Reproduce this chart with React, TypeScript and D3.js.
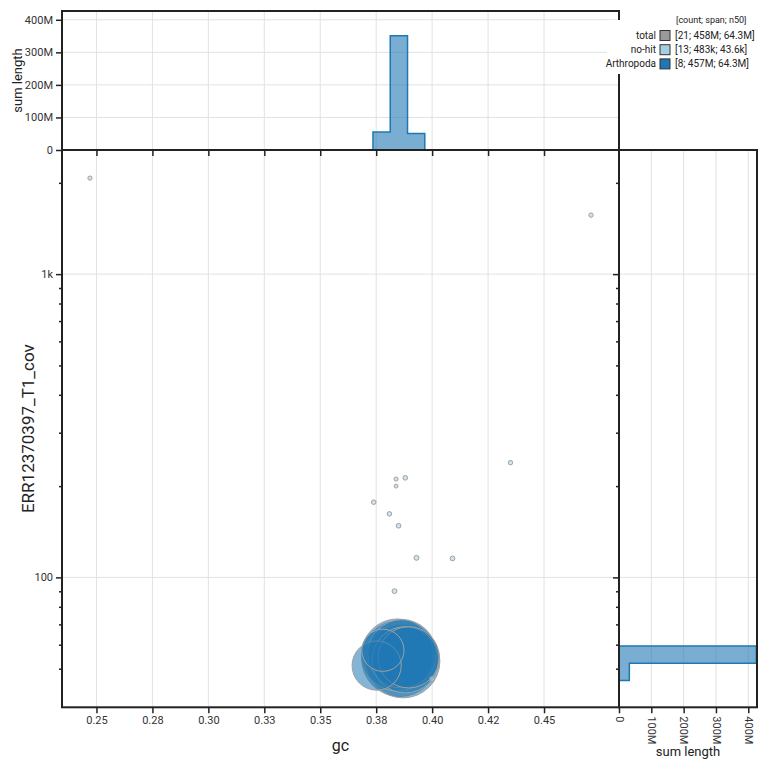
import React, { useEffect, useRef } from 'react';
import * as d3 from 'd3';

const W = 770;
const H = 770;

// Arthropoda sequences: gc, coverage, length
const arthGc = [0.3855, 0.387, 0.3845, 0.3865, 0.388, 0.3895, 0.378, 0.3752];
const arthCov = [54, 53, 55.5, 56, 53.5, 54.5, 57.5, 51.2];
const arthLen = [80e6, 75e6, 71.7e6, 64.3e6, 60e6, 51e6, 23e6, 32e6];

// no-hit sequences
const noHitGc = [0.2471, 0.471, 0.435, 0.3839, 0.388, 0.3839, 0.3739, 0.3809, 0.385, 0.393, 0.4091, 0.3832, 0.4];
const noHitCov = [2073, 1565, 239, 211, 213, 200, 177, 162, 148, 116, 115.5, 90.1, 46.2];
const noHitLen = [22e3, 28e3, 32e3, 18e3, 40e3, 11.4e3, 38e3, 35e3, 43.6e3, 55e3, 48e3, 52e3, 60e3];

const categories = ['no-hit', 'Arthropoda'];
const catColours = ['#a6cee3', '#1f78b4'];

const legendLabels = ['total', 'no-hit', 'Arthropoda'];
const legendColours = ['#999999', '#a6cee3', '#1f78b4'];
const legendStats = ['[21; 458M; 64.3M]', '[13; 483k; 43.6k]', '[8; 457M; 64.3M]'];

const gcTicks = [0.25, 0.275, 0.3, 0.325, 0.35, 0.375, 0.4, 0.425, 0.45];
const covMajor = [100, 1000];
const covMinor = [50, 60, 70, 80, 90, 200, 300, 400, 500, 600, 700, 800, 900, 2000];
const lengthTicks = [0, 1e8, 2e8, 3e8, 4e8];

const gcDomain = [0.2346, 0.4835];
const covDomain = [37.3, 2566];
const lengthMax = 427e6;
const gcBinStep = 0.00772;
const covBinStep = 0.057; // log10 units

const FONT = 'Roboto, "Noto Sans", sans-serif';
const INK = '#222';

export default function App() {
  const ref = useRef<SVGSVGElement>(null);

  useEffect(() => {
    const svg = d3.select(ref.current);
    svg.selectAll('*').remove();

    const left = 62, right = 619, top = 150, bottom = 707.3;
    const histTop = 11, sideRight = 757;

    const x = d3.scaleLinear().domain(gcDomain).range([left, right]);
    const y = d3.scaleLog().domain(covDomain).range([bottom, top]);
    const topY = d3.scaleLinear().domain([0, lengthMax]).range([top, histTop]);
    const sideX = d3.scaleLinear().domain([0, lengthMax]).range([right, sideRight]);
    const radius = d3.scaleSqrt().domain([0, 80e6]).range([1.5, 38]);

    const points = [
      ...arthGc.map((g, i) => ({ gc: g, cov: arthCov[i], len: arthLen[i], cat: 1 })),
      ...noHitGc.map((g, i) => ({ gc: g, cov: noHitCov[i], len: noHitLen[i], cat: 0 }))
    ].sort((a, b) => b.len - a.len);

    const grid = svg.append('g').attr('stroke', '#e2e2e2').attr('stroke-width', 1);
    gcTicks.forEach(t => {
      grid.append('line').attr('x1', x(t)).attr('x2', x(t)).attr('y1', histTop).attr('y2', bottom);
    });
    covMajor.forEach(t => {
      grid.append('line').attr('x1', left).attr('x2', sideRight).attr('y1', y(t)).attr('y2', y(t));
    });
    lengthTicks.slice(1).forEach(t => {
      grid.append('line').attr('x1', left).attr('x2', right).attr('y1', topY(t)).attr('y2', topY(t));
      grid.append('line').attr('x1', sideX(t)).attr('x2', sideX(t)).attr('y1', top).attr('y2', bottom);
    });

    // histograms per category
    const gcBins = d3.bin<any, number>()
      .value(d => d.gc)
      .domain(gcDomain as [number, number])
      .thresholds(d3.range(gcDomain[0] + gcBinStep, gcDomain[1], gcBinStep));
    const logDom = [Math.log10(covDomain[0]), Math.log10(covDomain[1])];
    const covBins = d3.bin<any, number>()
      .value(d => Math.log10(d.cov))
      .domain(logDom as [number, number])
      .thresholds(d3.range(1.603, logDom[1], covBinStep));

    categories.forEach((c, ci) => {
      const pts = points.filter(p => p.cat === ci);
      const tb = gcBins(pts);
      let p = `M${x(tb[0].x0!)},${top}`;
      tb.forEach(b => {
        const s = d3.sum(b, d => d.len);
        p += `L${x(b.x0!)},${topY(s)}L${x(b.x1!)},${topY(s)}`;
      });
      p += `L${x(tb[tb.length - 1].x1!)},${top}Z`;
      svg.append('path').attr('d', p)
        .attr('fill', catColours[ci]).attr('fill-opacity', 0.6)
        .attr('stroke', catColours[ci]).attr('stroke-width', 1.5);

      const sb = covBins(pts);
      let q = `M${right},${y(10 ** sb[0].x0!)}`;
      sb.forEach(b => {
        const s = d3.sum(b, d => d.len);
        q += `L${sideX(s)},${y(10 ** b.x0!)}L${sideX(s)},${y(10 ** b.x1!)}`;
      });
      q += `L${right},${y(10 ** sb[sb.length - 1].x1!)}Z`;
      svg.append('path').attr('d', q)
        .attr('fill', catColours[ci]).attr('fill-opacity', 0.6)
        .attr('stroke', catColours[ci]).attr('stroke-width', 1.5);
    });

    // blobs
    svg.append('g')
      .selectAll('circle')
      .data(points)
      .enter()
      .append('circle')
      .attr('cx', d => x(d.gc))
      .attr('cy', d => y(d.cov))
      .attr('r', d => radius(d.len))
      .attr('fill', d => catColours[d.cat])
      .attr('fill-opacity', 0.55)
      .attr('stroke', '#a0a0a0')
      .attr('stroke-width', 1);

    const styleAxis = (g: any) => {
      g.select('.domain').remove();
      g.selectAll('line').attr('stroke', INK).attr('stroke-width', 1.5);
      g.selectAll('text').attr('font-family', FONT).attr('font-size', 11).attr('fill', '#333');
    };
    const allCov = [...covMajor, ...covMinor];
    const covFmt = d3.format('~s');
    const lenFmt = d3.format('~s');

    // main x axis
    svg.append('g').attr('transform', `translate(0,${bottom})`)
      .call(d3.axisBottom(x).tickValues(gcTicks).tickFormat(d3.format('.2f') as any).tickSize(6))
      .call(styleAxis);
    // top hist x ticks (into main plot)
    svg.append('g').attr('transform', `translate(0,${top})`)
      .call(d3.axisBottom(x).tickValues(gcTicks).tickFormat(() => '').tickSize(6))
      .call(styleAxis);
    // main y axis
    const yAxis = svg.append('g').attr('transform', `translate(${left},0)`)
      .call(d3.axisLeft(y).tickValues(allCov)
        .tickFormat((d: any) => (covMajor.includes(d) ? covFmt(d) : '')).tickSize(6))
      .call(styleAxis);
    yAxis.selectAll('.tick line').attr('x2', (d: any) => (covMajor.includes(d) ? -6 : -3));
    // side hist y ticks
    const sAxis = svg.append('g').attr('transform', `translate(${right},0)`)
      .call(d3.axisLeft(y).tickValues(allCov).tickFormat(() => '').tickSize(6))
      .call(styleAxis);
    sAxis.selectAll('.tick line').attr('x2', (d: any) => (covMajor.includes(d) ? -6 : -3));
    // top hist y axis
    svg.append('g').attr('transform', `translate(${left},0)`)
      .call(d3.axisLeft(topY).tickValues(lengthTicks).tickFormat(lenFmt as any).tickSize(6))
      .call(styleAxis);
    // side hist x axis
    const sx = svg.append('g').attr('transform', `translate(0,${bottom})`)
      .call(d3.axisBottom(sideX).tickValues(lengthTicks).tickFormat(lenFmt as any).tickSize(6))
      .call(styleAxis);
    sx.selectAll('text')
      .attr('transform', 'rotate(90)')
      .attr('x', 9).attr('y', 0).attr('dy', '0.35em')
      .attr('text-anchor', 'start');

    // frames
    const frame = svg.append('g').attr('fill', 'none').attr('stroke', INK).attr('stroke-width', 2);
    frame.append('rect').attr('x', left).attr('y', histTop).attr('width', right - left).attr('height', top - histTop);
    frame.append('rect').attr('x', left).attr('y', top).attr('width', right - left).attr('height', bottom - top);
    frame.append('rect').attr('x', right).attr('y', top).attr('width', sideRight - right).attr('height', bottom - top);

    // titles
    const title = (txt: string, tx: number, ty: number, size: number, rot = 0) =>
      svg.append('text').text(txt)
        .attr('transform', `translate(${tx},${ty}) rotate(${rot})`)
        .attr('text-anchor', 'middle')
        .attr('font-family', FONT).attr('font-size', size).attr('fill', INK);
    title('gc', (left + right) / 2, 751, 16);
    title('ERR12370397_T1_cov', 34, (top + bottom) / 2, 17, -90);
    title('sum length', 22, (histTop + top) / 2, 13, -90);
    title('sum length', (right + sideRight) / 2, 756, 13);

    // legend
    const lg = svg.append('g');
    lg.append('rect').attr('x', 607).attr('y', 20).attr('width', 163).attr('height', 54).attr('fill', '#fff');
    lg.append('text').text('[count; span; n50]')
      .attr('x', 676).attr('y', 23)
      .attr('font-family', FONT).attr('font-size', 9).attr('fill', INK);
    legendLabels.forEach((l, i) => {
      const cy = 35.5 + i * 14.2;
      lg.append('text').text(l).attr('x', 656).attr('y', cy).attr('dy', '0.35em')
        .attr('text-anchor', 'end').attr('font-family', FONT).attr('font-size', 10).attr('fill', INK);
      lg.append('rect').attr('x', 660).attr('y', cy - 5).attr('width', 10).attr('height', 10)
        .attr('fill', legendColours[i]).attr('stroke', '#333').attr('stroke-width', 1);
      lg.append('text').text(legendStats[i]).attr('x', 675).attr('y', cy).attr('dy', '0.35em')
        .attr('font-family', FONT).attr('font-size', 10).attr('fill', INK);
    });
  }, []);

  return (
    <div style={{ position: 'absolute', left: 0, top: 0 }}>
      <svg ref={ref} width={W} height={H} style={{ display: 'block', background: '#fff' }} />
    </div>
  );
}
